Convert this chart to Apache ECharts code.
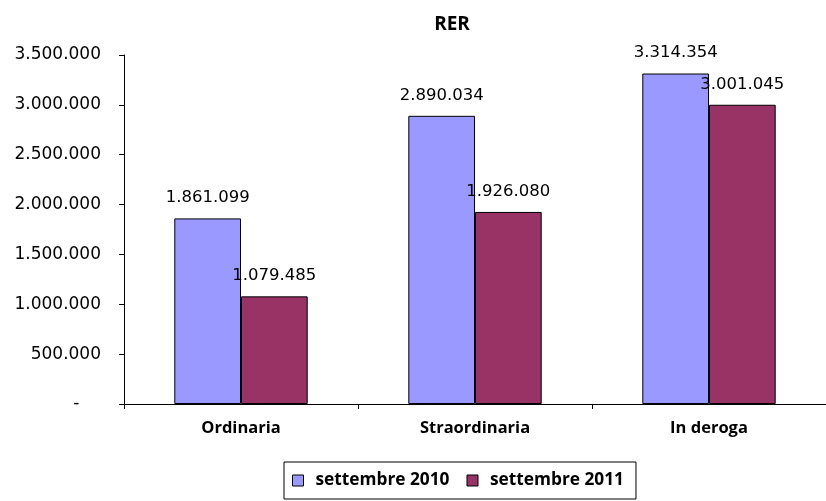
<!DOCTYPE html>
<html>
<head>
    <meta charset="utf-8" />
    <title>RER</title>
    <script src="https://cdn.jsdelivr.net/npm/echarts@6/dist/echarts.min.js"></script>
    <style type="text/css">
        html, body { margin: 0; padding: 0; background: #fff; }
        #chart { width: 826px; height: 501px; }
    </style>
</head>
<body>
    <div id="chart"></div>
    <script type="text/javascript">
        var categories = ['Ordinaria', 'Straordinaria', 'In deroga'];
        var seriesNames = ['settembre 2010', 'settembre 2011'];
        var values2010 = [1861099, 2890034, 3314354];
        var values2011 = [1079485, 1926080, 3001045];

        // numero con separatore delle migliaia "."
        var fmt = function (v) {
            if (v === 0) return '-    ';
            return String(v).replace(/\B(?=(\d{3})+(?!\d))/g, '.');
        };

        var labelStyle = {
            show: true,
            position: 'top',
            distance: 12,
            color: '#000',
            fontFamily: 'DejaVu Sans',
            fontSize: 16.5,
            formatter: function (p) { return fmt(p.value); }
        };

        var myChart = echarts.init(document.getElementById('chart'), null, { renderer: 'canvas' });
        var option = {
            animation: false,
            title: {
                text: 'RER',
                left: 447,
                top: 10,
                textAlign: 'center',
                textStyle: { fontFamily: 'Open Sans', fontWeight: 'bold', fontSize: 19, color: '#000' }
            },
            legend: {
                left: 284,
                top: 462,
                padding: [10, 12, 10, 8],
                borderColor: '#000',
                borderWidth: 1,
                itemWidth: 11,
                itemHeight: 11,
                itemGap: 17,
                icon: 'rect',
                itemStyle: { borderColor: '#000', borderWidth: 1 },
                data: seriesNames,
                textStyle: { fontFamily: 'Open Sans', fontWeight: 'bold', fontSize: 17.3, color: '#000', padding: [0, 0, 0, 7] }
            },
            grid: { left: 124, right: 0, top: 55, bottom: 97 },
            xAxis: {
                type: 'category',
                data: categories,
                axisLine: { lineStyle: { color: '#000' } },
                axisTick: { show: true, length: 5, lineStyle: { color: '#000' } },
                axisLabel: { margin: 16, color: '#000', fontFamily: 'Open Sans', fontWeight: 'bold', fontSize: 16.5 }
            },
            yAxis: {
                type: 'value',
                min: 0,
                max: 3500000,
                interval: 500000,
                splitLine: { show: false },
                axisLine: { show: true, lineStyle: { color: '#000' } },
                axisTick: { show: true, length: 5, lineStyle: { color: '#000' } },
                axisLabel: { margin: 23, color: '#000', fontFamily: 'DejaVu Sans', fontSize: 17, formatter: fmt }
            },
            series: [
                {
                    name: seriesNames[0],
                    type: 'bar',
                    data: values2010,
                    barGap: '0%',
                    barCategoryGap: '43%',
                    itemStyle: { color: '#9999FF', borderColor: '#000', borderWidth: 1 },
                    label: labelStyle
                },
                {
                    name: seriesNames[1],
                    type: 'bar',
                    data: values2011,
                    barGap: '0%',
                    barCategoryGap: '43%',
                    itemStyle: { color: '#993366', borderColor: '#000', borderWidth: 1 },
                    label: labelStyle
                }
            ]
        };
        myChart.setOption(option);
    </script>
</body>
</html>
